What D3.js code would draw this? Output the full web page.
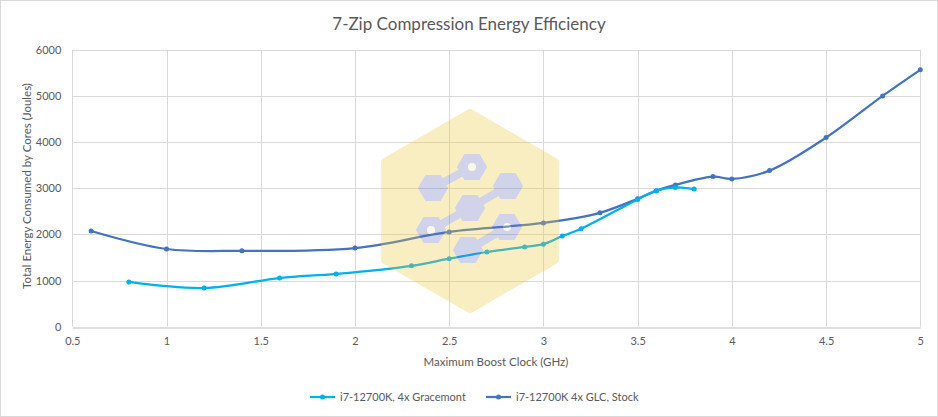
<!DOCTYPE html>
<html><head><meta charset="utf-8">
<script src="https://cdn.jsdelivr.net/npm/d3@7"></script>
<style>
html,body{margin:0;padding:0;background:#fff;}
svg{display:block;}
text{font-family:Lato,"Open Sans",sans-serif;fill:#595959;}
</style></head><body>
<svg id="c" width="938" height="417"></svg>
<script>
const title = "7-Zip Compression Energy Efficiency";
const xTitle = "Maximum Boost Clock (GHz)";
const yTitle = "Total Energy Consumed by Cores (Joules)";
const xTicks = [0.5,1,1.5,2,2.5,3,3.5,4,4.5,5];
const yTicks = [0,1000,2000,3000,4000,5000,6000];

const graceName = "i7-12700K, 4x Gracemont";
const graceX = [0.8,1.2,1.6,1.9,2.3,2.5,2.7,2.9,3.0,3.1,3.2,3.5,3.6,3.7,3.8];
const graceY = [970,840,1055,1145,1320,1475,1620,1730,1790,1965,2125,2760,2950,3020,2985];

const glcName = "i7-12700K 4x GLC, Stock";
const glcX = [0.6,1.0,1.4,2.0,2.5,3.0,3.3,3.5,3.6,3.7,3.9,4.0,4.2,4.5,4.8,5.0];
const glcY = [2075,1685,1645,1705,2055,2250,2470,2775,2950,3075,3255,3205,3385,4100,5005,5570];

const svg = d3.select("#c");
svg.append("rect").attr("x",0.5).attr("y",0.5).attr("width",937).attr("height",416)
  .attr("fill","#fff").attr("stroke","#d9d9d9");

const x = d3.scaleLinear().domain([0.5,5]).range([72.3,920.3]);
const y = d3.scaleLinear().domain([0,6000]).range([326.7,50]);

// gridlines
const g = svg.append("g");
g.selectAll(".hg").data(yTicks.filter(d=>d>0)).join("line")
  .attr("x1",x(0.5)).attr("x2",x(5)).attr("y1",d=>Math.round(y(d))+0.5).attr("y2",d=>Math.round(y(d))+0.5)
  .attr("stroke","#d9d9d9").attr("stroke-width",1);
g.selectAll(".vg").data(xTicks).join("line")
  .attr("y1",y(0)).attr("y2",y(6000)).attr("x1",d=>Math.round(x(d))+0.5).attr("x2",d=>Math.round(x(d))+0.5)
  .attr("stroke","#d9d9d9").attr("stroke-width",1);

// axes
const xAxis = d3.axisBottom(x).tickValues(xTicks).tickSize(0).tickPadding(10).tickFormat(d=>d3.format("")(d));
const ax = svg.append("g").attr("transform",`translate(0,${Math.round(y(0))+0.5})`).call(xAxis);
ax.select(".domain").attr("stroke","#bfbfbf");
ax.selectAll("text").style("font-size","11px").attr("fill","#595959");
const yAxis = d3.axisLeft(y).tickValues(yTicks).tickSize(0).tickPadding(11).tickFormat(d=>d);
const ay = svg.append("g").attr("transform",`translate(${x(0.5)},0)`).call(yAxis);
ay.select(".domain").remove();
ay.selectAll("text").style("font-size","11px").attr("fill","#595959");

// titles
svg.append("text").attr("x",469).attr("y",30).attr("text-anchor","middle")
  .style("font-size","17px").text(title);
svg.append("text").attr("x",496).attr("y",366).attr("text-anchor","middle")
  .style("font-size","11.5px").text(xTitle);
svg.append("text").attr("transform","translate(31,186) rotate(-90)").attr("text-anchor","middle")
  .style("font-size","11.5px").text(yTitle);

// series
const series = [
  {name:glcName, xs:glcX, ys:glcY, color:"#4472C4"},
  {name:graceName, xs:graceX, ys:graceY, color:"#00B0F0"}
];
const line = d3.line().x(d=>x(d[0])).y(d=>y(d[1])).curve(d3.curveCatmullRom.alpha(0.5));
series.forEach(s=>{
  const pts = s.xs.map((v,i)=>[v,s.ys[i]]);
  svg.append("path").attr("d",line(pts)).attr("fill","none").attr("stroke",s.color)
    .attr("stroke-width",2.25).attr("stroke-linejoin","round").attr("stroke-linecap","round");
  svg.append("g").selectAll("circle").data(pts).join("circle")
    .attr("cx",d=>x(d[0])).attr("cy",d=>y(d[1])).attr("r",2.5).attr("fill",s.color);
});

// watermark
const wm = svg.append("g").attr("opacity",0.3);
const cx=470, cy=211, R=98;
const hexPts = (X,Y,r,rot)=>d3.range(6).map(i=>{const a=(rot+60*i)*Math.PI/180;return [X+r*Math.cos(a),Y+r*Math.sin(a)];});
wm.append("path").attr("d",d3.line().curve(d3.curveLinearClosed)(hexPts(cx,cy,R,-90)))
  .attr("fill","#EEC63A").attr("stroke","#EEC63A").attr("stroke-width",8).attr("stroke-linejoin","round");
const mol = [[433,188],[472,167],[508,186],[470,208],[431,230],[507,227],[468,250]];
const links = [[0,1],[3,2],[4,3],[6,5]];
const mc = "#6670BC";
links.forEach(([a,b])=>wm.append("line").attr("x1",mol[a][0]).attr("y1",mol[a][1]).attr("x2",mol[b][0]).attr("y2",mol[b][1])
  .attr("stroke",mc).attr("stroke-width",8));
mol.forEach(p=>wm.append("path").attr("d",d3.line().curve(d3.curveLinearClosed)(hexPts(p[0],p[1],14,0)))
  .attr("fill",mc).attr("stroke",mc).attr("stroke-width",2).attr("stroke-linejoin","round"));
[1,4,5].forEach(i=>wm.append("circle").attr("cx",mol[i][0]).attr("cy",mol[i][1]).attr("r",4).attr("fill","#F7E9B8"));

// legend
const leg = [{name:graceName,color:"#00B0F0",x:310},{name:glcName,color:"#4472C4",x:486}];
leg.forEach(l=>{
  svg.append("line").attr("x1",l.x).attr("x2",l.x+25).attr("y1",397).attr("y2",397).attr("stroke",l.color).attr("stroke-width",2.25);
  svg.append("circle").attr("cx",l.x+12.5).attr("cy",397).attr("r",2.5).attr("fill",l.color);
  svg.append("text").attr("x",l.x+30).attr("y",401).style("font-size","11px").text(l.name);
});
</script></body></html>
